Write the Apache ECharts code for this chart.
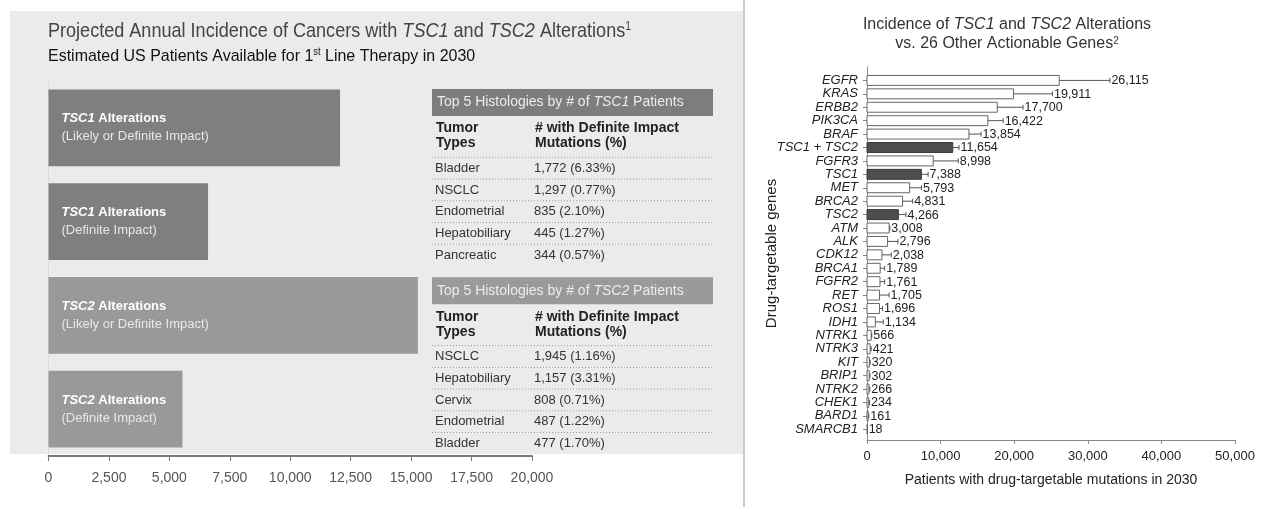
<!DOCTYPE html>
<html><head><meta charset="utf-8">
<script src="https://cdn.jsdelivr.net/npm/echarts@6/dist/echarts.min.js"></script>
<style>html,body{margin:0;padding:0;background:#fff}#c{width:1267px;height:507px}</style>
</head><body><div id="c"></div>
<script>
// ---------- data ----------
const leftGenes = ['TSC1', 'TSC1', 'TSC2', 'TSC2'];
const leftImpact = ['(Likely or Definite Impact)', '(Definite Impact)', '(Likely or Definite Impact)', '(Definite Impact)'];
const leftValues = [12060, 6600, 15280, 5540];

const tsc1Types = ['Bladder', 'NSCLC', 'Endometrial', 'Hepatobiliary', 'Pancreatic'];
const tsc1Counts = ['1,772 (6.33%)', '1,297 (0.77%)', '835 (2.10%)', '445 (1.27%)', '344 (0.57%)'];
const tsc2Types = ['NSCLC', 'Hepatobiliary', 'Cervix', 'Endometrial', 'Bladder'];
const tsc2Counts = ['1,945 (1.16%)', '1,157 (3.31%)', '808 (0.71%)', '487 (1.22%)', '477 (1.70%)'];

const genes = ['EGFR', 'KRAS', 'ERBB2', 'PIK3CA', 'BRAF', 'TSC1 + TSC2', 'FGFR3', 'TSC1', 'MET', 'BRCA2', 'TSC2', 'ATM', 'ALK', 'CDK12', 'BRCA1', 'FGFR2', 'RET', 'ROS1', 'IDH1', 'NTRK1', 'NTRK3', 'KIT', 'BRIP1', 'NTRK2', 'CHEK1', 'BARD1', 'SMARCB1'];
const geneValues = [26115, 19911, 17700, 16422, 13854, 11654, 8998, 7388, 5793, 4831, 4266, 3008, 2796, 2038, 1789, 1761, 1705, 1696, 1134, 566, 421, 320, 302, 266, 234, 161, 18];
const geneUpper = [33000, 25200, 21200, 18500, 15500, 12500, 12400, 8300, 7400, 6200, 5300, 3100, 4200, 3300, 2400, 2400, 3000, 2100, 2200, 650, 570, 430, 400, 380, 350, 250, 18];
const highlightGenes = ['TSC1 + TSC2', 'TSC1', 'TSC2'];

// ---------- helpers ----------
const ARIAL = "'Liberation Sans',Arial,sans-serif";
const fmt = v => Math.round(v).toLocaleString('en-US');

const chart = echarts.init(document.getElementById('c'), null, {renderer: 'canvas'});

function tableGraphics(y0, gene, headerFill, types, counts) {
  const els = [];
  const x0 = 432, w = 281;
  els.push({type: 'rect', z: 50, shape: {x: x0, y: y0, width: w, height: 27}, style: {fill: headerFill}});
  els.push({type: 'text', z: 51, x: 437, y: y0 + 13.5, style: {
    text: '{n|Top 5 Histologies by # of }{i|' + gene + '}{n| Patients}', verticalAlign: 'middle',
    rich: {n: {fontSize: 14, fontFamily: ARIAL, fill: '#ececec'}, i: {fontSize: 14, fontFamily: ARIAL, fontStyle: 'italic', fill: '#ececec'}}
  }});
  const hs = {fontSize: 14, fontWeight: 'bold', fontFamily: ARIAL, fill: '#222', verticalAlign: 'middle'};
  els.push({type: 'text', z: 51, x: 436, y: y0 + 39.5, style: Object.assign({text: 'Tumor'}, hs)});
  els.push({type: 'text', z: 51, x: 436, y: y0 + 54.5, style: Object.assign({text: 'Types'}, hs)});
  els.push({type: 'text', z: 51, x: 535, y: y0 + 39.5, style: Object.assign({text: '# with Definite Impact'}, hs)});
  els.push({type: 'text', z: 51, x: 535, y: y0 + 54.5, style: Object.assign({text: 'Mutations (%)'}, hs)});
  const firstRow = y0 + 79.3, pitch = 21.7;
  const dot = y => ({type: 'line', z: 51, shape: {x1: x0, y1: y, x2: x0 + w, y2: y}, style: {stroke: '#9a9a9a', lineWidth: 1, lineDash: [1, 2]}});
  els.push(dot(firstRow - 11));
  types.forEach((t, i) => {
    const y = firstRow + i * pitch;
    els.push({type: 'text', z: 51, x: 435, y: y, style: {text: t, fontSize: 13, fontFamily: ARIAL, fill: '#333', verticalAlign: 'middle'}});
    els.push({type: 'text', z: 51, x: 534, y: y, style: {text: counts[i], fontSize: 13, fontFamily: ARIAL, fill: '#333', verticalAlign: 'middle'}});
    if (i < types.length - 1) els.push(dot(y + 10.8));
  });
  return els;
}

const graphics = [
  {type: 'rect', z: -100, shape: {x: 10, y: 11, width: 733, height: 443}, style: {fill: '#ebebeb'}},
  {type: 'line', z: -90, shape: {x1: 744, y1: 0, x2: 744, y2: 507}, style: {stroke: '#c9c9c9', lineWidth: 2}},
  {type: 'text', x: 48, y: 31, scaleX: 0.86, style: {
    text: '{n|Projected Annual Incidence of Cancers with }{i|TSC1}{n| and }{i|TSC2}{n| Alterations}{s|1}',
    verticalAlign: 'middle',
    rich: {
      n: {fontSize: 21, fontFamily: ARIAL, fill: '#444'},
      i: {fontSize: 21, fontFamily: ARIAL, fontStyle: 'italic', fill: '#444'},
      s: {fontSize: 12, fontFamily: ARIAL, fill: '#444', verticalAlign: 'top', lineHeight: 21}
    }
  }},
  {type: 'text', x: 48, y: 56, scaleX: 0.94, style: {
    text: '{n|Estimated US Patients Available for 1}{s|st}{n| Line Therapy in 2030}',
    verticalAlign: 'middle',
    rich: {
      n: {fontSize: 17, fontFamily: ARIAL, fill: '#111'},
      s: {fontSize: 10, fontFamily: ARIAL, fill: '#111', verticalAlign: 'top', lineHeight: 17}
    }
  }},
  {type: 'text', x: 1007, y: 25, style: {
    text: '{n|Incidence of }{i|TSC1}{n| and }{i|TSC2}{n| Alterations}', align: 'center', verticalAlign: 'middle',
    rich: {n: {fontSize: 16, fontFamily: ARIAL, fill: '#333'}, i: {fontSize: 16, fontFamily: ARIAL, fontStyle: 'italic', fill: '#333'}}
  }},
  {type: 'text', x: 1007, y: 44, style: {
    text: '{n|vs. 26 Other Actionable Genes}{s|2}', align: 'center', verticalAlign: 'middle',
    rich: {n: {fontSize: 16, fontFamily: ARIAL, fill: '#333'}, s: {fontSize: 10, fontFamily: ARIAL, fill: '#333', verticalAlign: 'top', lineHeight: 16}}
  }}
].concat(tableGraphics(89, 'TSC1', '#7d7d7d', tsc1Types, tsc1Counts))
 .concat(tableGraphics(277.3, 'TSC2', '#9a9a9a', tsc2Types, tsc2Counts));

function renderGene(params, api) {
  const v = api.value(0), idx = api.value(1), up = api.value(2);
  const p0 = api.coord([0, idx]);
  const p1 = api.coord([v, idx]);
  const pu = api.coord([up, idx]);
  const h = api.size([0, 0.74])[1];
  const hi = highlightGenes.indexOf(genes[idx]) >= 0;
  const children = [{
    type: 'rect', shape: {x: p0[0], y: p0[1] - h / 2, width: Math.max(p1[0] - p0[0], 0.5), height: h},
    style: {fill: hi ? '#4e4e4e' : '#ffffff', stroke: hi ? '#3a3a3a' : '#666', lineWidth: 1}
  }];
  if (pu[0] > p1[0] + 0.5) {
    children.push({type: 'line', shape: {x1: p1[0], y1: p1[1], x2: pu[0], y2: pu[1]}, style: {stroke: '#555', lineWidth: 1}});
    children.push({type: 'line', shape: {x1: pu[0], y1: pu[1] - 2.5, x2: pu[0], y2: pu[1] + 2.5}, style: {stroke: '#555', lineWidth: 1}});
  }
  children.push({type: 'text', x: pu[0] + 1.5, y: pu[1] + 0.5, style: {text: fmt(v), fill: '#222', fontSize: 12.5, fontFamily: ARIAL, verticalAlign: 'middle'}});
  return {type: 'group', children};
}

const option = {
  animation: false,
  backgroundColor: '#ffffff',
  graphic: graphics,
  grid: [
    {left: 48.5, top: 81, width: 483.5, height: 375},
    {left: 867, top: 67, width: 368, height: 373}
  ],
  xAxis: [
    {gridIndex: 0, type: 'value', min: 0, max: 20000, interval: 2500,
      axisLine: {show: true, onZero: false, lineStyle: {color: '#7a7a7a', width: 2}},
      axisTick: {show: true, length: 5, lineStyle: {color: '#7a7a7a'}},
      axisLabel: {formatter: fmt, fontSize: 14, fontFamily: ARIAL, color: '#555', margin: 15},
      splitLine: {show: false}},
    {gridIndex: 1, type: 'value', min: 0, max: 50000, interval: 10000,
      axisLine: {show: true, onZero: false, lineStyle: {color: '#888'}},
      axisTick: {show: true, length: 4, lineStyle: {color: '#888'}},
      axisLabel: {formatter: fmt, fontSize: 13, fontFamily: ARIAL, color: '#222', margin: 10},
      splitLine: {show: false},
      name: 'Patients with drug-targetable mutations in 2030', nameLocation: 'middle', nameGap: 33,
      nameTextStyle: {fontSize: 14, fontFamily: ARIAL, color: '#222'}}
  ],
  yAxis: [
    {gridIndex: 0, type: 'category', inverse: true, data: leftGenes.map((g, i) => g + ' ' + leftImpact[i]),
      axisLine: {show: true, lineStyle: {color: '#dcdcdc'}}, axisTick: {show: false}, axisLabel: {show: false}},
    {gridIndex: 1, type: 'value', inverse: true, min: -1, max: 26.8, interval: 1,
      axisLine: {show: true, onZero: false, lineStyle: {color: '#888'}},
      axisTick: {show: true, length: 4, lineStyle: {color: '#888'}, customValues: genes.map((g, i) => i)},
      axisLabel: {customValues: genes.map((g, i) => i), formatter: v => genes[v] || '', fontStyle: 'italic',
        fontSize: 13, fontFamily: ARIAL, color: '#222', margin: 9},
      splitLine: {show: false},
      name: 'Drug-targetable genes', nameLocation: 'middle', nameGap: 88, nameMoveOverlap: false,
      nameTextStyle: {fontSize: 15, fontFamily: ARIAL, color: '#222'}}
  ],
  series: [
    {type: 'bar', xAxisIndex: 0, yAxisIndex: 0, barCategoryGap: '18%',
      data: leftValues.map((v, i) => ({value: v, itemStyle: {color: i < 2 ? '#7f7f7f' : '#999999'}})),
      label: {show: true, position: 'insideLeft', distance: 13,
        formatter: p => '{g|' + leftGenes[p.dataIndex] + '}{b| Alterations}\n{s|' + leftImpact[p.dataIndex] + '}',
        rich: {
          g: {fontSize: 13, fontWeight: 'bold', fontStyle: 'italic', fontFamily: ARIAL, color: '#fff', lineHeight: 18},
          b: {fontSize: 13, fontWeight: 'bold', fontFamily: ARIAL, color: '#fff', lineHeight: 18},
          s: {fontSize: 13, fontFamily: ARIAL, color: '#e8e8e8', lineHeight: 18}
        }}},
    {type: 'custom', xAxisIndex: 1, yAxisIndex: 1, renderItem: renderGene,
      encode: {x: 0, y: 1},
      data: geneValues.map((v, i) => [v, i, geneUpper[i]])}
  ]
};
chart.setOption(option);
</script>
</body></html>
